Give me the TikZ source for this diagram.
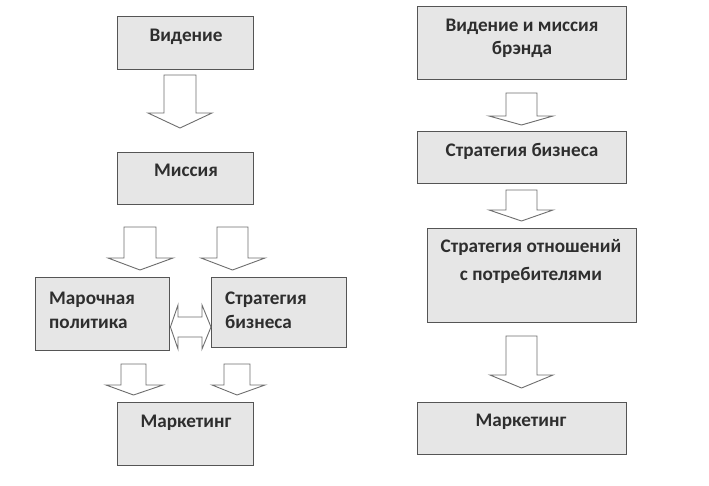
\documentclass[tikz,border=0pt]{standalone}
\usepackage{fontspec}
\setmainfont{Carlito}
\definecolor{boxfill}{HTML}{E6E6E6}
\definecolor{boxline}{HTML}{555555}
\definecolor{txt}{HTML}{2E2E2E}
\definecolor{arrline}{HTML}{6E6E6E}
\tikzset{
  box/.style={draw=boxline, fill=boxfill, line width=1.4pt, inner sep=0pt},
  lbl/.style={font=\bfseries\fontsize{19.2}{23}\selectfont, text=txt, anchor=base, inner sep=0pt},
  lbll/.style={font=\bfseries\fontsize{19.2}{23}\selectfont, text=txt, anchor=base west, inner sep=0pt},
  blockarrow/.style={draw=arrline, fill=white, line width=0.9pt, line join=miter}
}
% #1 shaft left x, #2 shaft right x, #3 top y, #4 head y, #5 head left x, #6 head right x, #7 tip y
\newcommand\blockdown[7]{%
  \draw[blockarrow] (#1,#3) -- (#2,#3) -- (#2,#4) -- (#6,#4) -- ({(#1+#2)/2},#7) -- (#5,#4) -- (#1,#4) -- cycle;}
\newcommand\boxat[5]{% name, x1, y1, x2, y2
  \node[box, anchor=north west, minimum width={#4-#2}, minimum height={#5-#3}] (#1) at (#2,#3) {};}
\begin{document}
\begin{tikzpicture}[x=1pt,y=-1pt]
\useasboundingbox (0,0) rectangle (709,486);
% left column
\boxat{vid}{117}{16}{253}{69}
\node[lbl] (tvid) at (186,42) {Видение};
\blockdown{164}{196}{75}{113}{148}{212}{128}
\boxat{mis}{117}{152}{253}{204}
\node[lbl] (tmis) at (186,177) {Миссия};
\blockdown{124}{156}{227}{258}{108}{173}{270}
\blockdown{217}{248}{227}{258}{201}{265}{270}
\boxat{mar}{35}{277}{169}{350}
\node[lbll] (tmar1) at (49,305) {Марочная};
\node[lbll] (tmar2) at (49,328) {политика};
\boxat{str}{211}{277}{346}{347}
\node[lbll] (tstr1) at (225,305) {Стратегия};
\node[lbll] (tstr2) at (225,328) {бизнеса};
\draw[blockarrow] (mar.east |- 0,327) -- (178,305) -- (178,317) -- (202,317) -- (202,305)
   -- (str.west |- 0,327) -- (202,349) -- (202,337) -- (178,337) -- (178,349) -- cycle;
\blockdown{121}{146}{364}{385}{106}{163}{395}
\blockdown{224}{250}{364}{385}{212}{265}{395}
\boxat{mkl}{117}{402}{253}{465}
\node[lbl] (tmkl) at (186,427) {Маркетинг};
% right column
\boxat{vm}{417}{6}{626}{79}
\node[lbl] (tvm1) at (522,32) {Видение и миссия};
\node[lbl] (tvm2) at (522,55) {брэнда};
\blockdown{506}{537}{93}{116}{489}{553}{125}
\boxat{sb}{417}{131}{626}{183}
\node[lbl] (tsb) at (522,157) {Стратегия бизнеса};
\blockdown{506}{537}{190}{210}{489}{553}{221}
\boxat{so}{427}{228}{636}{322}
\node[lbl] (tso1) at (531,253) {Стратегия отношений};
\node[lbl] (tso2) at (531,280) {с потребителями};
\blockdown{506}{537}{336}{375}{490}{553}{388}
\boxat{mkr}{417}{402}{626}{454}
\node[lbl] (tmkr) at (521,426) {Маркетинг};
\end{tikzpicture}
\end{document}
